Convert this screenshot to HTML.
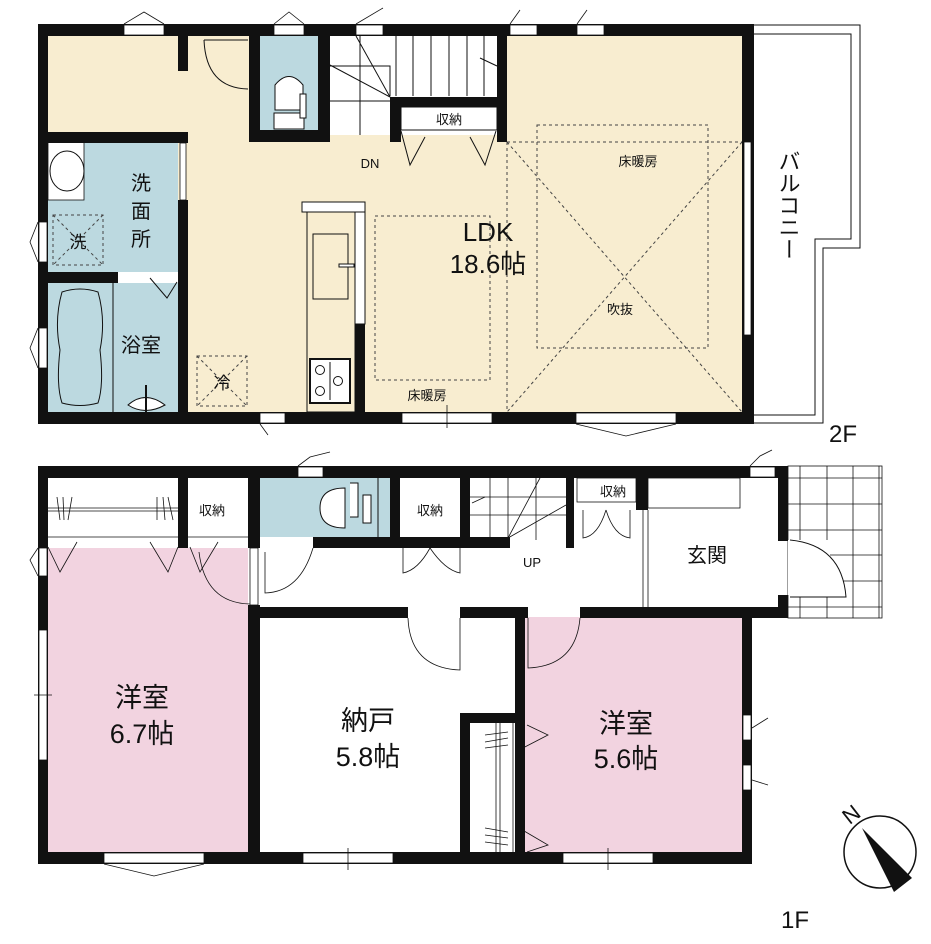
<!DOCTYPE html>
<html><head><meta charset="utf-8"><style>
html,body{margin:0;padding:0;background:#fff;width:931px;height:944px;overflow:hidden}
svg{display:block}
text{font-family:"Liberation Sans","Noto Sans CJK JP",sans-serif;fill:#111}
</style></head><body>
<svg width="931" height="944" viewBox="0 0 931 944" xmlns="http://www.w3.org/2000/svg">
<rect x="38" y="24" width="716" height="400" fill="#f8edd0"/>
<rect x="260" y="36" width="58" height="94" fill="#bcd9e0"/>
<rect x="48" y="142" width="130" height="130" fill="#bcd9e0"/>
<rect x="48" y="283" width="130" height="129" fill="#bcd9e0"/>
<rect x="330" y="36" width="167" height="99" fill="#fff"/>
<g stroke="#111" stroke-width="1" fill="none">
<line x1="330" y1="66" x2="390" y2="66"/><line x1="330" y1="101" x2="390" y2="101"/>
<line x1="360" y1="66" x2="360" y2="135"/><line x1="360" y1="36" x2="360" y2="66"/>
<polyline points="360,66 390,66 390,96"/>
<line x1="396" y1="36" x2="396" y2="96"/><line x1="413" y1="36" x2="413" y2="96"/><line x1="431" y1="36" x2="431" y2="96"/><line x1="449" y1="36" x2="449" y2="96"/><line x1="467" y1="36" x2="467" y2="96"/><line x1="484" y1="36" x2="484" y2="96"/>
<line x1="330" y1="65" x2="390" y2="97"/><line x1="356" y1="36" x2="390" y2="97"/>
<line x1="480" y1="58" x2="497" y2="66"/>
</g>
<rect x="401" y="107" width="96" height="23" fill="#fff" stroke="#111" stroke-width="1"/>
<text x="449" y="124" font-size="13" text-anchor="middle">収納</text>
<g stroke="#111" stroke-width="1" fill="none">
<polyline points="401,131 410,165 425,137"/><polyline points="470,137 485,165 496,131"/>
</g>
<rect x="48" y="142" width="36" height="58" fill="#fff" stroke="#111" stroke-width="0.8"/>
<ellipse cx="67" cy="171" rx="17" ry="20" fill="#fff" stroke="#111"/>
<g stroke="#444" stroke-width="1" stroke-dasharray="3,3" fill="none">
<rect x="53" y="215" width="50" height="50"/><line x1="53" y1="215" x2="103" y2="265"/><line x1="103" y1="215" x2="53" y2="265"/>
<rect x="197" y="356" width="50" height="50"/><line x1="197" y1="356" x2="247" y2="406"/><line x1="247" y1="356" x2="197" y2="406"/>
<rect x="375" y="216" width="115" height="164"/>
<rect x="537" y="125" width="171" height="223"/>
<line x1="507" y1="142" x2="742" y2="142"/><line x1="507" y1="142" x2="507" y2="412"/>
<line x1="507" y1="142" x2="742" y2="412"/><line x1="742" y1="142" x2="507" y2="412"/>
</g>
<text x="78" y="248" font-size="17" text-anchor="middle">洗</text>
<text x="222" y="389" font-size="17" text-anchor="middle">冷</text>
<line x1="113" y1="283" x2="113" y2="412" stroke="#111"/>
<path d="M62,292 Q80,286 98,292 Q106,320 100,350 Q104,385 98,403 Q80,408 62,403 Q56,385 60,350 Q54,320 62,292Z" fill="#bcd9e0" stroke="#111"/>
<path d="M128,405 Q145,390 165,405 Q145,416 128,405Z" fill="#fff" stroke="#111"/>
<line x1="146" y1="385" x2="146" y2="412" stroke="#111" stroke-width="2"/>
<rect x="118" y="272" width="60" height="11" fill="#fff"/>
<polyline points="150,278 167,298 177,282" stroke="#111" fill="none"/>
<path d="M275,110 L275,85 Q289,68 303,85 L303,110Z" fill="#fff" stroke="#111"/>
<rect x="274" y="113" width="30" height="16" fill="#fff" stroke="#111"/>
<rect x="300" y="94" width="6" height="24" fill="#fff" stroke="#111"/>
<path d="M204,40 Q206,88 248,89" stroke="#111" fill="none"/><line x1="204" y1="40" x2="248" y2="40" stroke="#111"/>
<rect x="302" y="202" width="63" height="10" fill="#fff" stroke="#111"/>
<rect x="307" y="212" width="48" height="200" fill="#f8edd0" stroke="#111"/>
<rect x="355" y="212" width="10" height="112" fill="#fff" stroke="#111"/>
<rect x="313" y="234" width="35" height="65" fill="#f8edd0" stroke="#111"/>
<rect x="339" y="264" width="15" height="3" fill="#fff" stroke="#111"/>
<rect x="310" y="359" width="40" height="44" fill="#fff" stroke="#111" stroke-width="2"/>
<g stroke="#111" fill="#fff"><line x1="330" y1="362" x2="330" y2="400"/><circle cx="320" cy="370" r="4.5"/><circle cx="338" cy="381" r="4.5"/><circle cx="320" cy="391" r="4.5"/></g>
<g fill="#111">
<rect x="38" y="24" width="716" height="12"/>
<rect x="38" y="412" width="716" height="12"/>
<rect x="38" y="24" width="10" height="400"/>
<rect x="742" y="24" width="12" height="400"/>
<rect x="178" y="36" width="10" height="35"/>
<rect x="249" y="36" width="11" height="106"/>
<rect x="249" y="130" width="81" height="12"/>
<rect x="318" y="36" width="12" height="106"/>
<rect x="390" y="97" width="117" height="10"/>
<rect x="390" y="97" width="11" height="45"/>
<rect x="497" y="36" width="10" height="106"/>
<rect x="38" y="132" width="150" height="11"/>
<rect x="178" y="200" width="10" height="212"/>
<rect x="38" y="272" width="80" height="11"/>
<rect x="355" y="324" width="10" height="88"/>
</g>
<rect x="180" y="143" width="6" height="57" fill="#fff" stroke="#111" stroke-width="0.8"/>
<g fill="#fff" stroke="#111" stroke-width="0.8">
<rect x="124" y="25" width="40" height="10"/><rect x="274" y="25" width="30" height="10"/><rect x="356" y="25" width="27" height="10"/><rect x="510" y="25" width="27" height="10"/><rect x="577" y="25" width="27" height="10"/>
<rect x="39" y="222" width="8" height="40"/><rect x="39" y="328" width="8" height="40"/>
<rect x="260" y="413" width="25" height="10"/><rect x="402" y="413" width="90" height="10"/><rect x="576" y="413" width="100" height="10"/>
<rect x="744" y="142" width="7" height="193"/>
</g>
<g stroke="#111" fill="none" stroke-width="0.8">
<polyline points="124,24 144,12 164,24"/><polyline points="274,24 289,12 304,24"/><polyline points="356,24 383,8"/><polyline points="510,24 520,10"/><polyline points="577,24 587,10"/>
<polyline points="38,222 30,242 38,262"/><polyline points="38,328 30,348 38,368"/>
<polyline points="576,424 626,436 676,424"/><line x1="447" y1="405" x2="447" y2="428"/><polyline points="260,424 268,435"/>
</g>
<path d="M754,25 H860 V248 H823 V423 H754" stroke="#111" fill="none" stroke-width="1"/>
<path d="M754,34 H851 V239 H815 V415 H754" stroke="#111" fill="none" stroke-width="1"/>
<text x="788" y="150" font-size="22" writing-mode="tb">バルコニー</text>
<text x="829" y="442" font-size="24">2F</text>
<text x="370" y="168" font-size="13" text-anchor="middle">DN</text>
<text x="141" y="190" font-size="20" text-anchor="middle">洗</text>
<text x="141" y="218" font-size="20" text-anchor="middle">面</text>
<text x="141" y="246" font-size="20" text-anchor="middle">所</text>
<text x="141" y="352" font-size="20" text-anchor="middle">浴室</text>
<text x="488" y="241" font-size="26" text-anchor="middle">LDK</text>
<text x="488" y="273" font-size="26" text-anchor="middle">18.6帖</text>
<text x="638" y="166" font-size="13" text-anchor="middle">床暖房</text>
<text x="620" y="314" font-size="13" text-anchor="middle">吹抜</text>
<text x="427" y="400" font-size="13" text-anchor="middle">床暖房</text>

<rect x="48" y="548" width="200" height="304" fill="#f2d3e0"/>
<rect x="525" y="617" width="217" height="235" fill="#f2d3e0"/>
<rect x="260" y="478" width="130" height="59" fill="#bcd9e0"/>
<g stroke="#111" stroke-width="0.8" fill="none">
<rect x="788" y="466" width="94" height="152"/>
<line x1="800" y1="466" x2="800" y2="618"/><line x1="827" y1="466" x2="827" y2="618"/><line x1="853" y1="466" x2="853" y2="618"/><line x1="879" y1="466" x2="879" y2="618"/>
<line x1="788" y1="478" x2="882" y2="478"/><line x1="788" y1="504" x2="882" y2="504"/><line x1="788" y1="530" x2="882" y2="530"/><line x1="788" y1="555" x2="882" y2="555"/><line x1="788" y1="581" x2="882" y2="581"/><line x1="788" y1="607" x2="882" y2="607"/>
</g>
<rect x="788" y="540" width="42" height="55" fill="#fff"/>
<path d="M790,540 Q842,545 846,597 L790,597" stroke="#111" fill="#fff"/>
<g stroke="#111" stroke-width="0.8" fill="none">
<line x1="48" y1="508" x2="178" y2="508"/><line x1="48" y1="511" x2="178" y2="511"/>
<line x1="48" y1="537" x2="178" y2="537"/><line x1="188" y1="537" x2="248" y2="537"/>
<line x1="57" y1="497" x2="60" y2="520"/><line x1="63" y1="497" x2="64" y2="520"/><line x1="72" y1="497" x2="68" y2="520"/>
<line x1="157" y1="497" x2="157" y2="520"/><line x1="163" y1="497" x2="165" y2="520"/><line x1="168" y1="497" x2="173" y2="520"/>
<polyline points="48,547 60,572 77,542"/><polyline points="150,542 168,572 178,547"/><polyline points="190,547 200,572 218,542"/>
<path d="M199,552 Q205,603 250,604"/>
<path d="M265,552 V593 Q300,592 313,548"/>
<path d="M403,548 V573 Q418,570 430,548 M460,548 V573 Q445,570 430,548"/>
<path d="M408,618 Q410,668 460,670 V618"/>
<path d="M583,510 V538 Q598,536 606,510 M630,510 V538 Q614,536 606,510"/>
<path d="M528,618 V668 Q576,666 580,618"/>
</g>
<g stroke="#111" stroke-width="0.8" fill="none">
<line x1="470" y1="515" x2="566" y2="515"/><line x1="470" y1="497" x2="566" y2="497"/>
<line x1="490" y1="478" x2="490" y2="540"/><line x1="508" y1="478" x2="508" y2="540"/><line x1="536" y1="478" x2="536" y2="540"/>
<line x1="508" y1="538" x2="540" y2="478"/><line x1="508" y1="538" x2="566" y2="505"/><line x1="472" y1="503" x2="485" y2="497"/>
</g>
<text x="212" y="515" font-size="13" text-anchor="middle">収納</text>
<text x="430" y="515" font-size="13" text-anchor="middle">収納</text>
<rect x="577" y="478" width="59" height="24" fill="#fff" stroke="#111" stroke-width="0.8"/>
<text x="613" y="496" font-size="13" text-anchor="middle">収納</text>
<rect x="648" y="478" width="92" height="30" fill="none" stroke="#111" stroke-width="0.8"/>
<line x1="643" y1="510" x2="643" y2="607" stroke="#111" stroke-width="0.8"/><line x1="648" y1="510" x2="648" y2="607" stroke="#111" stroke-width="0.8"/>
<path d="M350,483 H358 V517 H350 M320,508 Q320,488 345,488 V528 Q320,528 320,508Z" fill="#fff" stroke="#111"/>
<rect x="363" y="495" width="8" height="28" fill="#fff" stroke="#111"/>
<line x1="378" y1="478" x2="378" y2="537" stroke="#111"/>
<g stroke="#111" stroke-width="0.8" fill="none">
<line x1="496" y1="723" x2="496" y2="852"/><line x1="500" y1="723" x2="500" y2="852"/><line x1="513" y1="723" x2="513" y2="852"/>
<line x1="485" y1="735" x2="508" y2="732"/><line x1="485" y1="742" x2="508" y2="738"/><line x1="485" y1="748" x2="508" y2="745"/>
<line x1="485" y1="828" x2="508" y2="832"/><line x1="485" y1="835" x2="508" y2="838"/><line x1="485" y1="842" x2="508" y2="845"/>
<polyline points="519,750 548,735 527,725"/><polyline points="519,828 548,845 527,852"/>
</g>
<g fill="#111">
<rect x="38" y="466" width="750" height="12"/>
<rect x="38" y="852" width="714" height="12"/>
<rect x="38" y="466" width="10" height="398"/>
<rect x="742" y="607" width="10" height="257"/>
<rect x="778" y="466" width="10" height="75"/>
<rect x="778" y="595" width="10" height="23"/>
<rect x="178" y="478" width="10" height="70"/>
<rect x="248" y="478" width="12" height="70"/>
<rect x="248" y="605" width="12" height="259"/>
<rect x="313" y="537" width="197" height="11"/>
<rect x="390" y="478" width="10" height="70"/>
<rect x="460" y="478" width="10" height="70"/>
<rect x="566" y="478" width="8" height="70"/>
<rect x="636" y="478" width="12" height="32"/>
<rect x="248" y="607" width="160" height="11"/>
<rect x="460" y="607" width="68" height="11"/>
<rect x="580" y="607" width="208" height="11"/>
<rect x="460" y="713" width="55" height="10"/>
<rect x="460" y="713" width="10" height="140"/>
<rect x="515" y="617" width="10" height="236"/>
</g>
<rect x="250" y="548" width="8" height="57" fill="#fff" stroke="#111" stroke-width="0.8"/>
<g fill="#fff" stroke="#111" stroke-width="0.8">
<rect x="298" y="467" width="25" height="10"/><rect x="750" y="467" width="25" height="10"/>
<rect x="39" y="548" width="8" height="28"/><rect x="39" y="630" width="8" height="130"/>
<rect x="104" y="853" width="100" height="10"/><rect x="303" y="853" width="90" height="10"/><rect x="563" y="853" width="90" height="10"/>
<rect x="743" y="715" width="8" height="25"/><rect x="743" y="765" width="8" height="25"/>
</g>
<g stroke="#111" fill="none" stroke-width="0.8">
<polyline points="298,466 310,457 330,452"/><polyline points="750,466 760,456 772,450"/>
<polyline points="38,548 30,560 38,576"/><line x1="34" y1="695" x2="52" y2="695"/>
<polyline points="104,864 154,876 204,864"/><line x1="348" y1="848" x2="348" y2="870"/><line x1="608" y1="848" x2="608" y2="870"/>
<polyline points="752,728 768,718"/><polyline points="752,780 768,785"/>
</g>
<text x="142" y="707" font-size="27" text-anchor="middle">洋室</text>
<text x="142" y="743" font-size="27" text-anchor="middle">6.7帖</text>
<text x="368" y="730" font-size="27" text-anchor="middle">納戸</text>
<text x="368" y="766" font-size="27" text-anchor="middle">5.8帖</text>
<text x="626" y="733" font-size="27" text-anchor="middle">洋室</text>
<text x="626" y="768" font-size="27" text-anchor="middle">5.6帖</text>
<text x="707" y="562" font-size="20" text-anchor="middle">玄関</text>
<text x="532" y="567" font-size="13" text-anchor="middle">UP</text>
<text x="781" y="928" font-size="24">1F</text>
<circle cx="880" cy="852" r="36" fill="#fff" stroke="#111" stroke-width="1.5"/>
<polygon points="862,828 912,878 894,892" fill="#111"/>
<text x="851" y="822" font-size="22" transform="rotate(-38 851 814)" text-anchor="middle">N</text>
</svg>
</body></html>
